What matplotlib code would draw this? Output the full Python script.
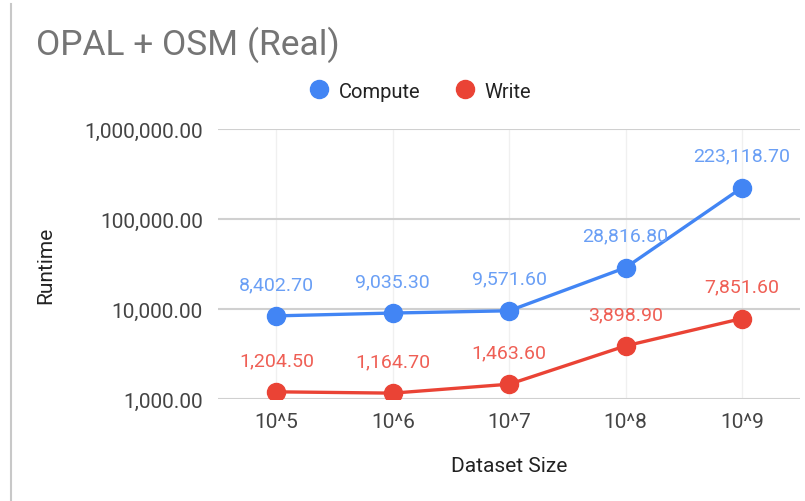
import matplotlib
matplotlib.use("Agg")
import matplotlib.pyplot as plt
from matplotlib.lines import Line2D
from matplotlib.ticker import FixedLocator, FuncFormatter, NullLocator

plt.rcParams['font.family'] = ['Roboto', 'DejaVu Sans']

categories = ["10^5", "10^6", "10^7", "10^8", "10^9"]
compute = [8402.70, 9035.30, 9571.60, 28816.80, 223118.70]
write = [1204.50, 1164.70, 1463.60, 3898.90, 7851.60]
series_names = ["Compute", "Write"]
yticks = [1000, 10000, 100000, 1000000]

line_colors = ["#4285f4", "#ea4335"]
label_colors = ["#6a9ff5", "#ef5f55"]

fig = plt.figure(figsize=(8.05, 5.02), dpi=100)
ax = fig.add_axes([0.271, 0.203, 0.723, 0.538])

x = list(range(len(categories)))
for vals, name, lc, tc in zip([compute, write], series_names, line_colors, label_colors):
    ax.plot(x, vals, color=lc, lw=2.4, marker='o', ms=13, label=name, zorder=3)
    for xi, v in zip(x, vals):
        ax.annotate(f"{v:,.2f}", (xi, v), xytext=(0, 23), textcoords='offset points',
                    ha='center', va='center', color=tc, fontsize=14, zorder=4)

ax.set_yscale('log')
ax.set_ylim(1000, 1000000)
ax.set_xlim(-0.5, len(categories) - 0.5)
ax.yaxis.set_major_locator(FixedLocator(yticks))
ax.yaxis.set_minor_locator(NullLocator())
ax.yaxis.set_major_formatter(FuncFormatter(lambda v, p: f"{v:,.2f}"))
ax.set_xticks(x)
ax.set_xticklabels(categories)
ax.tick_params(axis='both', length=0, labelsize=15, labelcolor='#444444')
ax.tick_params(axis='x', pad=9)
ax.tick_params(axis='y', pad=11)
for s in ax.spines.values():
    s.set_visible(False)
ax.grid(axis='y', color='#d0d0d0', lw=1.5)
ax.grid(axis='x', color='#f0f0f0', lw=1)
ax.set_axisbelow(True)

ax.set_ylabel("Runtime", fontsize=15, color='#222222', labelpad=21)
ax.set_xlabel("Dataset Size", fontsize=15, color='#222222', labelpad=18)

fig.text(36/805, 1 - 45/502, "OPAL + OSM (Real)", fontsize=25.5, color='#757575', va='center', ha='left')

leg = fig.legend(loc='center', bbox_to_anchor=(421/805, 1 - 92/502), ncol=2, frameon=False,
                 fontsize=14.5, handlelength=0.8, handletextpad=0.6, columnspacing=1.8)
for h in leg.legend_handles:
    h.set_linestyle('none')
    h.set_markersize(13)
for t in leg.get_texts():
    t.set_color('#222222')

fig.add_artist(Line2D([11/805, 11/805], [0, 1 - 5/502], transform=fig.transFigure, color='#c8c8c8', lw=1.5))

fig.savefig("out.png", dpi=100)
